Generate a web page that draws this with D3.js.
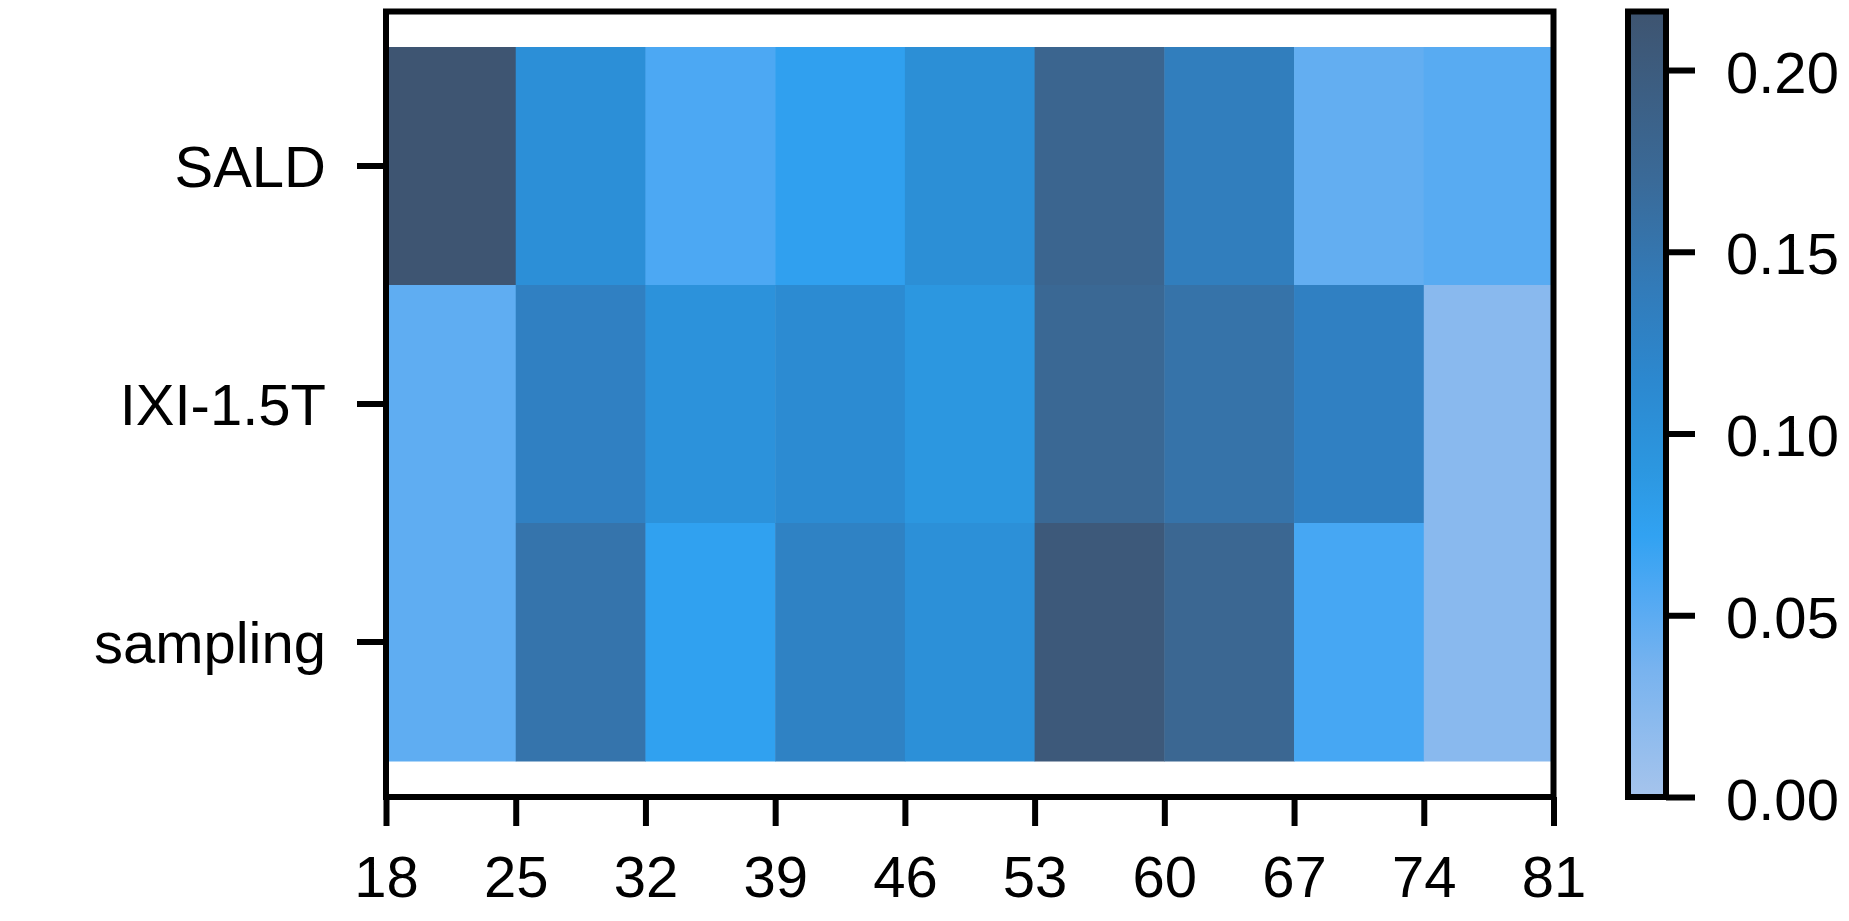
<!DOCTYPE html>
<html>
<head>
<meta charset="utf-8">
<script src="https://cdn.jsdelivr.net/npm/d3@7"></script>
<style>
  html, body { margin: 0; padding: 0; background: #fff; }
  svg { display: block; }
  text { font-family: "Liberation Sans", Arial, Helvetica, sans-serif; fill: #000; }
</style>
</head>
<body>
<svg id="chart" width="1849" height="921"></svg>
<script>
// ---- data ----
const datasets = ["SALD", "IXI-1.5T", "sampling"];
const ageEdges = [18, 25, 32, 39, 46, 53, 60, 67, 74, 81];
const saldValues     = [0.214, 0.103, 0.058, 0.075, 0.104, 0.180, 0.135, 0.046, 0.052];
const ixiValues      = [0.048, 0.130, 0.098, 0.110, 0.090, 0.175, 0.155, 0.130, 0.022];
const samplingValues = [0.048, 0.152, 0.074, 0.127, 0.102, 0.205, 0.177, 0.061, 0.022];
const colorbarTicks = [0.00, 0.05, 0.10, 0.15, 0.20];
const colorMax = 0.2161;

// colormap
const cmapDomain = [0, 0.035, 0.055, 0.072, 0.09, 0.115, 0.14, 0.17, 0.2161];
const cmapRange  = ["#a6c4ec", "#78b3ef", "#52a9f3", "#31a2f2", "#2c97e0", "#2c88cf", "#327bb9", "#3a6a98", "#3e5470"];
const color = d3.scaleLinear().domain(cmapDomain).range(cmapRange).interpolate(d3.interpolateRgb).clamp(true);

const matrix = [saldValues, ixiValues, samplingValues];
const cells = [];
matrix.forEach((row, r) => row.forEach((v, c) => cells.push({ r: datasets[r], x0: ageEdges[c], x1: ageEdges[c + 1], v })));

// ---- layout ----
const svg = d3.select("#chart");
const boxLeft = 386, boxRight = 1553.5, boxTop = 11.5, boxBottom = 797;
const lw = 6;

const x = d3.scaleLinear().domain([18, 81]).range([boxLeft, boxRight]);
const y = d3.scaleBand().domain(datasets).range([47, 761]).padding(0);

// cells
svg.append("g").selectAll("rect").data(cells).join("rect")
  .attr("x", d => x(d.x0))
  .attr("y", d => y(d.r))
  .attr("width", d => x(d.x1) - x(d.x0) + 0.5)
  .attr("height", y.bandwidth() + 0.5)
  .attr("fill", d => color(d.v));

// frame
svg.append("rect")
  .attr("x", boxLeft).attr("y", boxTop)
  .attr("width", boxRight - boxLeft).attr("height", boxBottom - boxTop)
  .attr("fill", "none").attr("stroke", "#000").attr("stroke-width", lw);

const fontSize = 58;
const tickLen = 29;

// x axis
const xAxis = d3.axisBottom(x).tickValues(ageEdges).tickSize(tickLen).tickPadding(0).tickFormat(d3.format("d"));
const gx = svg.append("g").attr("transform", `translate(0,${boxBottom})`).call(xAxis);
gx.select(".domain").remove();
gx.selectAll(".tick line").attr("stroke", "#000").attr("stroke-width", lw);
gx.selectAll(".tick text")
  .attr("y", 100).attr("dy", null)
  .attr("font-size", fontSize)
  .attr("font-family", "Liberation Sans, Arial, sans-serif");

// y axis
const yAxis = d3.axisLeft(y).tickSize(tickLen).tickPadding(0);
const gy = svg.append("g").attr("transform", `translate(${boxLeft},0)`).call(yAxis);
gy.select(".domain").remove();
gy.selectAll(".tick line").attr("stroke", "#000").attr("stroke-width", lw);
gy.selectAll(".tick text")
  .attr("x", -60).attr("dy", null).attr("y", 21)
  .attr("font-size", fontSize)
  .attr("font-family", "Liberation Sans, Arial, sans-serif");

// colorbar
const cbLeft = 1628, cbRight = 1666;
const cy = d3.scaleLinear().domain([0, colorMax]).range([boxBottom, boxTop]);
const defs = svg.append("defs");
const grad = defs.append("linearGradient").attr("id", "cbgrad")
  .attr("x1", 0).attr("y1", 1).attr("x2", 0).attr("y2", 0);
grad.selectAll("stop").data(cmapDomain).join("stop")
  .attr("offset", d => d / colorMax)
  .attr("stop-color", d => color(d));
svg.append("rect")
  .attr("x", cbLeft).attr("y", boxTop)
  .attr("width", cbRight - cbLeft).attr("height", boxBottom - boxTop)
  .attr("fill", "url(#cbgrad)")
  .attr("stroke", "#000").attr("stroke-width", lw);

const cAxis = d3.axisRight(cy).tickValues(colorbarTicks).tickSize(tickLen).tickPadding(0).tickFormat(d3.format(".2f"));
const gc = svg.append("g").attr("transform", `translate(${cbRight},0)`).call(cAxis);
gc.select(".domain").remove();
gc.selectAll(".tick line").attr("stroke", "#000").attr("stroke-width", lw);
gc.selectAll(".tick text")
  .attr("x", 60).attr("dy", null).attr("y", 22)
  .attr("font-size", fontSize)
  .attr("font-family", "Liberation Sans, Arial, sans-serif");
</script>
</body>
</html>
